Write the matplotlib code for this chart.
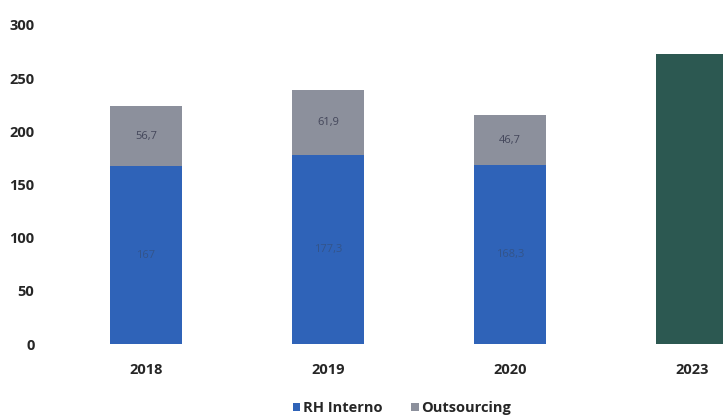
import numpy as np
import matplotlib
matplotlib.use("Agg")
import matplotlib.pyplot as plt

plt.rcParams['font.family'] = ['Open Sans', 'DejaVu Sans']

anos = ["2018", "2019", "2020", "2023"]
rh_interno = [167, 177.3, 168.3]
outsourcing = [56.7, 61.9, 46.7]
rh_labels = ["167", "177,3", "168,3"]
out_labels = ["56,7", "61,9", "46,7"]
total_2023 = 273

azul = "#2f63b8"
cinza = "#8c909c"
verde = "#2c5851"

fig = plt.figure(figsize=(7.23, 4.16), dpi=100)
ax = fig.add_axes([40/723, (416-344)/416, (723-40)/723, (344-25)/416])

x = np.arange(len(anos))
w = 0.4
b1 = ax.bar(x[:3], rh_interno, w, color=azul, label="RH Interno")
b2 = ax.bar(x[:3], outsourcing, w, bottom=rh_interno, color=cinza, label="Outsourcing")
ax.bar(x[3], total_2023, w, color=verde)

for i in range(3):
    ax.text(x[i], rh_interno[i] / 2, rh_labels[i], ha="center", va="center",
            fontsize=8, color="#33548a")
    ax.text(x[i], rh_interno[i] + outsourcing[i] / 2, out_labels[i], ha="center",
            va="center", fontsize=8, color="#43465a")

ax.set_xlim(-0.582, 3.17)
ax.set_ylim(0, 300)
ax.set_yticks(range(0, 301, 50))
ax.set_xticks(x)
ax.set_xticklabels(anos)
for s in ax.spines.values():
    s.set_visible(False)
ax.tick_params(length=0, labelsize=10.5, labelcolor="#262626")
ax.tick_params(axis="x", pad=14)
ax.tick_params(axis="y", pad=4)
for t in ax.get_xticklabels() + ax.get_yticklabels():
    t.set_fontweight("bold")

leg = fig.legend(handles=[b1, b2], loc="center", bbox_to_anchor=(402/723, 1 - 408/416),
                 ncol=2, frameon=False, handlelength=0.5, handleheight=0.5,
                 handletextpad=0.2, columnspacing=2.0,
                 prop={"size": 10.5, "weight": "bold"})
for t in leg.get_texts():
    t.set_color("#262626")

fig.savefig("out.png", dpi=100)
